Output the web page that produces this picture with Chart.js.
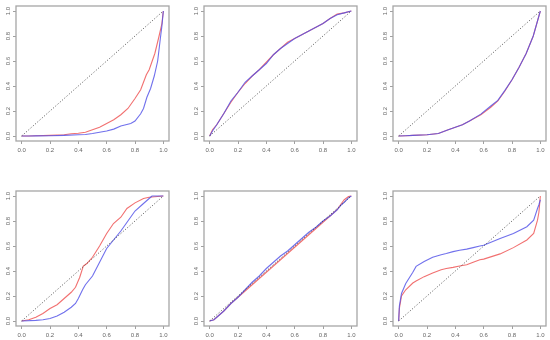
<!DOCTYPE html>
<html>
<head>
<meta charset="utf-8">
<script src="https://cdn.jsdelivr.net/npm/chart.js@4/dist/chart.umd.min.js"></script>
<style>
html,body{margin:0;padding:0;background:#fff;}
#wrap{position:relative;width:550px;height:340px;}
canvas{position:absolute;left:0;top:0;}
</style>
</head>
<body>
<div id="wrap"></div>
<script>
// ---- tick labels ----
const tickValues = [0, 0.2, 0.4, 0.6, 0.8, 1.0];
const diagX = [0, 1];
const diagY = [0, 1];

// ---- panel 1 (top left) ----
const p1RedX = [0, 0.05, 0.1, 0.2, 0.3, 0.35, 0.4, 0.45, 0.5, 0.55, 0.6, 0.65, 0.7, 0.75, 0.8, 0.84, 0.88, 0.9, 0.94, 0.97, 0.99, 1.0];
const p1RedY = [0, 0.0, 0.002, 0.005, 0.01, 0.018, 0.022, 0.03, 0.05, 0.07, 0.10, 0.13, 0.17, 0.22, 0.30, 0.37, 0.49, 0.53, 0.66, 0.80, 0.90, 1.0];
const p1BlueX = [0, 0.05, 0.1, 0.2, 0.3, 0.4, 0.45, 0.5, 0.6, 0.65, 0.7, 0.77, 0.8, 0.84, 0.86, 0.884, 0.91, 0.936, 0.96, 0.98, 0.99, 1.0];
const p1BlueY = [0, 0.0, 0.001, 0.002, 0.005, 0.01, 0.012, 0.02, 0.04, 0.055, 0.08, 0.10, 0.12, 0.178, 0.22, 0.31, 0.38, 0.48, 0.60, 0.79, 0.88, 1.0];

// ---- panel 2 (top middle) ----
const p2X = [0, 0.02, 0.05, 0.1, 0.15, 0.2, 0.25, 0.3, 0.35, 0.4, 0.45, 0.5, 0.55, 0.6, 0.65, 0.7, 0.75, 0.8, 0.85, 0.9, 0.95, 1.0];
const p2RedY = [0, 0.05, 0.09, 0.18, 0.27, 0.35, 0.42, 0.48, 0.53, 0.59, 0.65, 0.70, 0.75, 0.78, 0.81, 0.84, 0.87, 0.90, 0.94, 0.975, 0.985, 1.0];
const p2BlueY = [0, 0.04, 0.09, 0.18, 0.28, 0.35, 0.43, 0.48, 0.53, 0.58, 0.65, 0.70, 0.74, 0.78, 0.81, 0.84, 0.87, 0.90, 0.94, 0.97, 0.985, 1.0];

// ---- panel 3 (top right) ----
const p3X = [0, 0.05, 0.1, 0.2, 0.28, 0.35, 0.4, 0.45, 0.5, 0.58, 0.65, 0.7, 0.75, 0.8, 0.85, 0.9, 0.95, 0.98, 1.0];
const p3RedY = [0, 0.002, 0.005, 0.01, 0.02, 0.05, 0.07, 0.09, 0.12, 0.17, 0.23, 0.28, 0.36, 0.45, 0.55, 0.66, 0.80, 0.92, 1.0];
const p3BlueY = [0, 0.002, 0.005, 0.01, 0.02, 0.05, 0.07, 0.09, 0.12, 0.175, 0.24, 0.285, 0.365, 0.45, 0.55, 0.66, 0.80, 0.92, 1.0];

// ---- panel 4 (bottom left) ----
const p4RedX = [0, 0.05, 0.1, 0.15, 0.2, 0.25, 0.3, 0.35, 0.38, 0.41, 0.435, 0.46, 0.5, 0.55, 0.6, 0.648, 0.7, 0.743, 0.8, 0.86, 0.9, 1.0];
const p4RedY = [0, 0.01, 0.03, 0.06, 0.10, 0.13, 0.18, 0.23, 0.27, 0.35, 0.44, 0.46, 0.51, 0.60, 0.70, 0.78, 0.83, 0.90, 0.945, 0.98, 0.99, 1.0];
const p4BlueX = [0, 0.1, 0.15, 0.2, 0.25, 0.3, 0.35, 0.38, 0.4, 0.43, 0.45, 0.5, 0.55, 0.6, 0.65, 0.7, 0.75, 0.8, 0.85, 0.9, 0.92, 1.0];
const p4BlueY = [0, 0.005, 0.01, 0.02, 0.04, 0.07, 0.11, 0.14, 0.18, 0.25, 0.29, 0.36, 0.47, 0.58, 0.65, 0.72, 0.80, 0.88, 0.93, 0.98, 1.0, 1.0];

// ---- panel 5 (bottom middle) ----
const p5X = [0, 0.03, 0.05, 0.1, 0.15, 0.2, 0.25, 0.3, 0.35, 0.4, 0.45, 0.5, 0.55, 0.6, 0.65, 0.7, 0.75, 0.8, 0.85, 0.9, 0.93, 0.95, 0.98, 1.0];
const p5RedY = [0, 0.01, 0.03, 0.08, 0.14, 0.19, 0.24, 0.29, 0.34, 0.39, 0.44, 0.49, 0.54, 0.59, 0.64, 0.69, 0.74, 0.79, 0.84, 0.89, 0.94, 0.97, 0.995, 1.0];
const p5BlueY = [0, 0.01, 0.03, 0.08, 0.14, 0.19, 0.25, 0.31, 0.36, 0.42, 0.47, 0.52, 0.56, 0.61, 0.66, 0.71, 0.75, 0.80, 0.84, 0.89, 0.93, 0.95, 0.985, 1.0];

// ---- panel 6 (bottom right) ----
const p6X = [0, 0.005, 0.02, 0.05, 0.1, 0.123, 0.18, 0.24, 0.3, 0.336, 0.384, 0.43, 0.48, 0.526, 0.573, 0.6, 0.716, 0.81, 0.905, 0.953, 0.98, 0.99, 1.0];
const p6RedY = [0, 0.10, 0.20, 0.25, 0.304, 0.32, 0.355, 0.384, 0.41, 0.42, 0.429, 0.44, 0.45, 0.47, 0.49, 0.495, 0.537, 0.587, 0.648, 0.70, 0.807, 0.87, 1.0];
const p6BlueY = [0, 0.12, 0.22, 0.30, 0.39, 0.437, 0.476, 0.51, 0.53, 0.54, 0.555, 0.566, 0.575, 0.587, 0.60, 0.606, 0.66, 0.70, 0.754, 0.807, 0.90, 0.93, 0.97];

// ---- styles ----
const RED = 'rgba(238,80,80,0.82)';
const BLUE = 'rgba(80,80,232,0.82)';

const pts = (xs, ys) => xs.map((x, i) => ({x: x, y: ys[i]}));

const panels = [
  {box: [16, 6, 169, 141], red: pts(p1RedX, p1RedY), blue: pts(p1BlueX, p1BlueY)},
  {box: [204, 6, 357, 141], red: pts(p2X, p2RedY), blue: pts(p2X, p2BlueY)},
  {box: [393, 6, 546, 141], red: pts(p3X, p3RedY), blue: pts(p3X, p3BlueY)},
  {box: [16, 191, 169, 326], red: pts(p4RedX, p4RedY), blue: pts(p4BlueX, p4BlueY)},
  {box: [204, 191, 357, 326], red: pts(p5X, p5RedY), blue: pts(p5X, p5BlueY)},
  {box: [393, 191, 546, 326], red: pts(p6X, p6RedY), blue: pts(p6X, p6BlueY)}
];

const boxPlugin = {
  id: 'box',
  afterDatasetsDraw(chart) {
    const {ctx, chartArea: a} = chart;
    ctx.save();
    ctx.strokeStyle = '#a6a6a6';
    ctx.lineWidth = 1.3;
    ctx.strokeRect(a.left, a.top, a.right - a.left, a.bottom - a.top);
    ctx.restore();
  }
};

const Y_W = 14, X_H = 16;
const wrap = document.getElementById('wrap');

panels.forEach(p => {
  const cv = document.createElement('canvas');
  cv.width = 550; cv.height = 340;
  cv.style.width = '550px'; cv.style.height = '340px';
  wrap.appendChild(cv);
  const [l, t, r, b] = p.box;
  const lineDs = (data, color) => ({
    data: data, borderColor: color, borderWidth: 1.1, pointRadius: 0,
    tension: 0, fill: false
  });
  const ds = [
    {data: pts(diagX, diagY), borderColor: '#222', borderWidth: 0.8, borderDash: [1, 2], pointRadius: 0, fill: false},
    lineDs(p.blue, BLUE),
    lineDs(p.red, RED)
  ];
  new Chart(cv, {
    type: 'line',
    data: {datasets: ds},
    options: {
      responsive: false,
      animation: false,
      events: [],
      layout: {padding: {left: l - Y_W, top: t, right: 550 - r, bottom: 340 - b - X_H}},
      plugins: {legend: {display: false}, tooltip: {enabled: false}},
      scales: {
        x: {
          type: 'linear', min: -0.04, max: 1.04,
          afterBuildTicks: s => { s.ticks = tickValues.map(v => ({value: v})); },
          afterFit: s => { s.height = X_H; },
          border: {display: false},
          grid: {drawOnChartArea: false, drawTicks: true, tickLength: 3, color: '#888', lineWidth: 0.8},
          ticks: {font: {size: 6, family: 'Liberation Sans'}, color: '#666', padding: 2.5, maxRotation: 0, minRotation: 0,
                  callback: v => v.toFixed(1)}
        },
        y: {
          type: 'linear', min: -0.04, max: 1.04,
          afterBuildTicks: s => { s.ticks = tickValues.map(v => ({value: v})); },
          afterFit: s => { s.width = Y_W; },
          border: {display: false},
          grid: {drawOnChartArea: false, drawTicks: true, tickLength: 3, color: '#888', lineWidth: 0.8},
          ticks: {font: {size: 6, family: 'Liberation Sans'}, color: '#666', padding: 0.5, minRotation: 90, maxRotation: 90,
                  crossAlign: 'center', callback: v => v.toFixed(1)}
        }
      }
    },
    plugins: [boxPlugin]
  });
});
</script>
</body>
</html>
